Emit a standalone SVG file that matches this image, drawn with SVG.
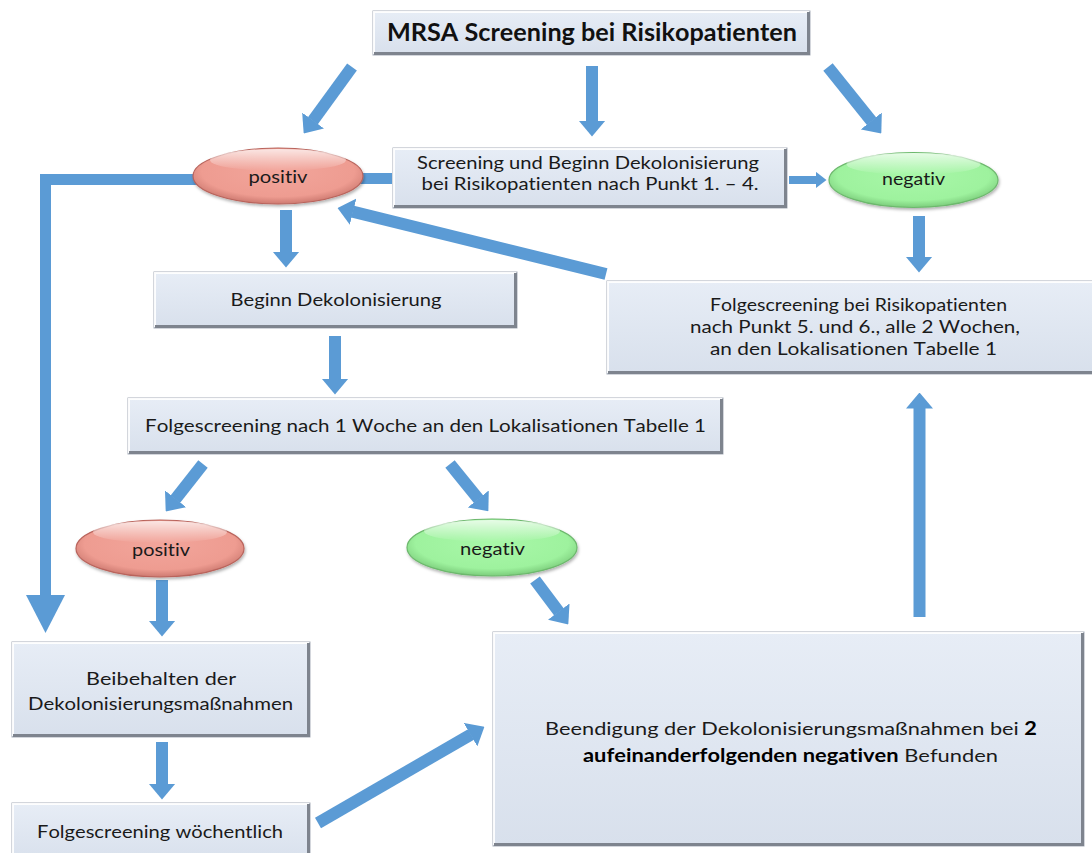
<svg xmlns="http://www.w3.org/2000/svg" width="1092" height="853" viewBox="0 0 1092 853">
<defs>
<linearGradient id="boxG" x1="0" y1="0" x2="0" y2="1">
<stop offset="0" stop-color="#E7EDF6"/>
<stop offset="1" stop-color="#D8E0EC"/>
</linearGradient>
<radialGradient id="pinkG" cx="0.5" cy="0.42" r="0.6">
<stop offset="0" stop-color="#F2A59B"/>
<stop offset="0.75" stop-color="#EE9C91"/>
<stop offset="1" stop-color="#C8746B"/>
</radialGradient>
<radialGradient id="greenG" cx="0.5" cy="0.42" r="0.6">
<stop offset="0" stop-color="#A8F7A8"/>
<stop offset="0.75" stop-color="#9EF29E"/>
<stop offset="1" stop-color="#76C776"/>
</radialGradient>
<linearGradient id="gloss" x1="0" y1="0" x2="0" y2="1">
<stop offset="0" stop-color="#FFFFFF" stop-opacity="0.75"/>
<stop offset="1" stop-color="#FFFFFF" stop-opacity="0"/>
</linearGradient>
<filter id="sh" x="-10%" y="-20%" width="120%" height="150%">
<feDropShadow dx="1" dy="2" stdDeviation="1.5" flood-color="#000" flood-opacity="0.3"/>
</filter>
<marker id="h" markerUnits="userSpaceOnUse" markerWidth="16" markerHeight="27" viewBox="0 0 16 27" refX="0.5" refY="13.5" orient="auto">
<path d="M0,0 L16,13.5 L0,27 z" fill="#5B9BD5"/>
</marker>
<marker id="hs" markerUnits="userSpaceOnUse" markerWidth="11" markerHeight="17" viewBox="0 0 11 17" refX="0.5" refY="8.5" orient="auto">
<path d="M0,0 L11,8.5 L0,17 z" fill="#5B9BD5"/>
</marker>
<style>
.box{fill:url(#boxG);stroke:#A7AEB9;stroke-width:1}
.hl{fill:none;stroke:#FFFFFF;stroke-width:2;stroke-opacity:0.9}
.dk{fill:none;stroke:#7E848E;stroke-width:3}
.arr{fill:none;stroke:#5B9BD5;stroke-width:12;marker-end:url(#h)}
.sarr{fill:none;stroke:#5B9BD5;stroke-width:8;marker-end:url(#hs)}
.bar{fill:none;stroke:#5B9BD5;stroke-width:11;stroke-linejoin:miter}
.ah{fill:#5B9BD5}
.t{font-family:Lato,"Liberation Sans",sans-serif;font-size:18px;fill:#1A1A1A;text-anchor:middle;font-kerning:none;font-variant-ligatures:none;font-feature-settings:"liga" 0,"clig" 0,"kern" 0}
.tt{font-family:Lato,"Liberation Sans",sans-serif;font-size:24px;font-weight:bold;fill:#111;text-anchor:middle;font-kerning:none;font-variant-ligatures:none;font-feature-settings:"liga" 0,"clig" 0,"kern" 0}
.b{font-weight:bold;fill:#000}
.pink{fill:url(#pinkG);stroke:#B9645C;stroke-width:1.2}
.green{fill:url(#greenG);stroke:#6DB86D;stroke-width:1.2}
</style>
</defs>
<rect width="1092" height="853" fill="#FFFFFF"/>

<g id="connectors">
<path class="bar" d="M200,179.5 H45.5 V596"/>
<polygon class="ah" points="26,595 65,595 45.5,633"/>
<line class="bar" x1="355" y1="178.5" x2="392" y2="178.5"/>
<line class="arr" x1="352" y1="67" x2="312.8" y2="120.9"/>
<line class="arr" x1="592" y1="66" x2="592" y2="121"/>
<line class="arr" x1="828" y1="67" x2="871.6" y2="121.3"/>
<line class="sarr" x1="789" y1="180" x2="816" y2="180"/>
<line class="arr" x1="286" y1="210" x2="286" y2="252"/>
<line class="arr" x1="919" y1="216" x2="919" y2="257"/>
<line class="arr" x1="606" y1="274" x2="352.6" y2="211.6"/>
<line class="arr" x1="335" y1="336" x2="335" y2="379"/>
<line class="arr" x1="203" y1="464" x2="175.3" y2="499.2"/>
<line class="arr" x1="450" y1="464" x2="478.6" y2="499.3"/>
<line class="arr" x1="162" y1="580" x2="162" y2="621"/>
<line class="arr" x1="535" y1="580" x2="559" y2="612"/>
<line class="arr" x1="162" y1="742" x2="162" y2="784"/>
<line class="arr" x1="318" y1="823" x2="471" y2="734.5"/>
<line class="arr" x1="919.5" y1="617" x2="919.5" y2="408"/>
</g>

<g id="title">
<rect class="box" x="373" y="11" width="437" height="44"/>
<path class="hl" d="M374,54 V12 H809"/>
<path class="dk" d="M808.5,12 V53.5 H374"/>
<text class="tt" x="592" y="41" textLength="410" lengthAdjust="spacingAndGlyphs">MRSA Screening bei Risikopatienten</text>
</g>

<g id="screening">
<rect class="box" x="393" y="148" width="394" height="60"/>
<path class="hl" d="M394,207 V149 H786"/>
<path class="dk" d="M785.5,149 V206.5 H394"/>
<text class="t" x="588" y="169" textLength="342" lengthAdjust="spacingAndGlyphs">Screening und Beginn Dekolonisierung</text>
<text class="t" x="590" y="190" textLength="337" lengthAdjust="spacingAndGlyphs">bei Risikopatienten nach Punkt 1. – 4.</text>
</g>

<g id="positiv1">
<ellipse class="pink" cx="278" cy="176" rx="85" ry="28" filter="url(#sh)"/>
<ellipse cx="278" cy="160" rx="68" ry="11" fill="url(#gloss)"/>
<text class="t" x="278" y="183" textLength="59" lengthAdjust="spacingAndGlyphs">positiv</text>
</g>

<g id="negativ1">
<ellipse class="green" cx="913.5" cy="180" rx="84.5" ry="27.5" filter="url(#sh)"/>
<ellipse cx="913.5" cy="164" rx="67" ry="11" fill="url(#gloss)"/>
<text class="t" x="913.5" y="185" textLength="63" lengthAdjust="spacingAndGlyphs">negativ</text>
</g>

<g id="beginn">
<rect class="box" x="154" y="272" width="363" height="56"/>
<path class="hl" d="M155,327 V273 H516"/>
<path class="dk" d="M515.5,273 V326.5 H155"/>
<text class="t" x="336" y="306" textLength="211" lengthAdjust="spacingAndGlyphs">Beginn Dekolonisierung</text>
</g>

<g id="folge1woche">
<rect class="box" x="128" y="398" width="595" height="56"/>
<path class="hl" d="M129,453 V399 H722"/>
<path class="dk" d="M721.5,399 V452.5 H129"/>
<text class="t" x="425.5" y="432" textLength="561" lengthAdjust="spacingAndGlyphs">Folgescreening nach 1 Woche an den Lokalisationen Tabelle 1</text>
</g>

<g id="folgeRisiko">
<rect class="box" x="607" y="281" width="490" height="93"/>
<path class="hl" d="M608,373 V282 H1096"/>
<path class="dk" d="M1095,282 V372.5 H608"/>
<text class="t" x="858.5" y="311" textLength="297" lengthAdjust="spacingAndGlyphs">Folgescreening bei Risikopatienten</text>
<text class="t" x="855" y="333" textLength="330" lengthAdjust="spacingAndGlyphs">nach Punkt 5. und 6., alle 2 Wochen,</text>
<text class="t" x="853.5" y="355" textLength="287" lengthAdjust="spacingAndGlyphs">an den Lokalisationen Tabelle 1</text>
</g>

<g id="positiv2">
<ellipse class="pink" cx="160" cy="548.5" rx="84" ry="28.5" filter="url(#sh)"/>
<ellipse cx="160" cy="532" rx="67" ry="11" fill="url(#gloss)"/>
<text class="t" x="161" y="556" textLength="58" lengthAdjust="spacingAndGlyphs">positiv</text>
</g>

<g id="negativ2">
<ellipse class="green" cx="492" cy="547.5" rx="85" ry="28.5" filter="url(#sh)"/>
<ellipse cx="492" cy="531" rx="68" ry="11" fill="url(#gloss)"/>
<text class="t" x="492.5" y="555" textLength="65" lengthAdjust="spacingAndGlyphs">negativ</text>
</g>

<g id="beibehalten">
<rect class="box" x="12" y="642" width="298" height="95"/>
<path class="hl" d="M13,736 V643 H309"/>
<path class="dk" d="M308.5,643 V735.5 H13"/>
<text class="t" x="161" y="685" textLength="150" lengthAdjust="spacingAndGlyphs">Beibehalten der</text>
<text class="t" x="160.5" y="710" textLength="265" lengthAdjust="spacingAndGlyphs">Dekolonisierungsmaßnahmen</text>
</g>

<g id="woechentlich">
<rect class="box" x="12" y="803" width="298" height="60"/>
<path class="hl" d="M13,862 V804 H309"/>
<path class="dk" d="M308.5,804 V862"/>
<text class="t" x="160" y="838" textLength="246" lengthAdjust="spacingAndGlyphs">Folgescreening wöchentlich</text>
</g>

<g id="beendigung">
<rect class="box" x="493" y="632" width="591" height="214"/>
<path class="hl" d="M494,845 V633 H1083"/>
<path class="dk" d="M1082.5,633 V844.5 H494"/>
<text class="t" x="791" y="735" textLength="492" lengthAdjust="spacingAndGlyphs">Beendigung der Dekolonisierungsmaßnahmen bei <tspan class="b">2</tspan></text>
<text class="t" x="790.5" y="762" textLength="415" lengthAdjust="spacingAndGlyphs"><tspan class="b">aufeinanderfolgenden negativen</tspan> Befunden</text>
</g>
</svg>
